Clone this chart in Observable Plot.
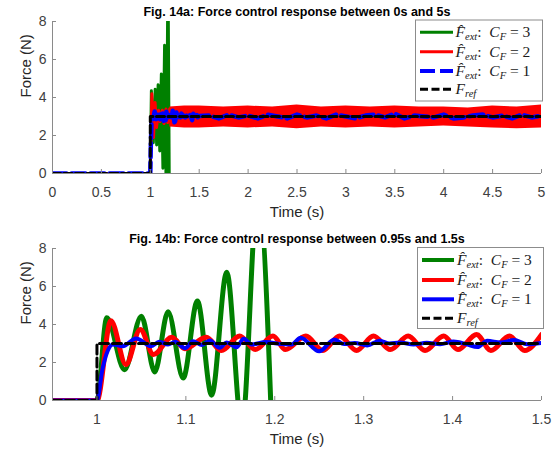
<!DOCTYPE html>
<html><head><meta charset="utf-8">
<script src="https://cdn.jsdelivr.net/npm/d3@7"></script>
<script src="https://cdn.jsdelivr.net/npm/@observablehq/plot@0.6"></script>
<style>
body{margin:0;background:#fff;width:559px;height:450px;overflow:hidden}
#wrap svg{display:block}
</style></head><body><div id="wrap"></div>
<script>
// ---------- data ----------
const titleA = "Fig. 14a: Force control response between 0s and 5s";
const titleB = "Fig. 14b: Force control response between 0.95s and 1.5s";
const xLabel = "Time (s)";
const yLabel = "Force (N)";
const xTicksA = [0, 0.5, 1, 1.5, 2, 2.5, 3, 3.5, 4, 4.5, 5];
const xTicksB = [1, 1.1, 1.2, 1.3, 1.4, 1.5];
const yTicks = [0, 2, 4, 6, 8];

// C_F = 3 (green)
const tGreen = [0.95, 1.0, 1.011, 1.031, 1.050, 1.065, 1.080, 1.097, 1.113, 1.129, 1.146, 1.163, 1.181, 1.200];
const fGreen = [0, 0, 4.35, 1.62, 4.44, 1.50, 4.67, 1.18, 5.24, 0.28, 6.75, -1.4, 11.0, -6.0];

// C_F = 2 (red)
const tRed = [0.95, 1.0, 1.0157, 1.0326, 1.0487, 1.0636, 1.0842, 1.099, 1.123, 1.140, 1.1605, 1.178, 1.198, 1.212, 1.235, 1.254, 1.273, 1.292, 1.311, 1.330, 1.350, 1.369, 1.390, 1.406, 1.427, 1.443, 1.464, 1.481, 1.5];
const fRed = [0, 0, 4.2, 1.89, 3.74, 2.42, 3.33, 2.73, 3.33, 2.63, 3.39, 2.68, 3.39, 2.68, 3.39, 2.63, 3.39, 2.63, 3.39, 2.68, 3.39, 2.63, 3.39, 2.68, 3.47, 2.63, 3.39, 2.63, 3.47];
// red envelope (top panel, where the oscillation merges into a band)
const tRedBand = [1.2, 1.35, 1.5, 1.75, 2, 2.25, 2.5, 2.75, 3, 3.25, 3.5, 3.75, 4, 4.25, 4.5, 4.75, 5];
const hiRedBand = [3.5, 3.55, 3.55, 3.5, 3.55, 3.5, 3.6, 3.5, 3.55, 3.5, 3.55, 3.5, 3.5, 3.45, 3.55, 3.5, 3.6];
const loRedBand = [2.45, 2.4, 2.4, 2.45, 2.4, 2.45, 2.35, 2.45, 2.4, 2.45, 2.4, 2.45, 2.5, 2.45, 2.4, 2.35, 2.4];

// C_F = 1 (blue)
const tBlue = [0.95, 1.0, 1.006, 1.012, 1.018, 1.029, 1.044, 1.061, 1.070, 1.080, 1.088, 1.099, 1.108, 1.118, 1.127, 1.138, 1.146, 1.157, 1.165, 1.174, 1.190, 1.205, 1.219, 1.229, 1.250, 1.267, 1.278, 1.290, 1.304, 1.318, 1.329, 1.341, 1.356, 1.371, 1.386, 1.401, 1.416, 1.428, 1.439, 1.454, 1.469, 1.484, 1.5];
const fBlue = [0, 0, 1.6, 2.6, 2.95, 2.86, 3.26, 2.86, 3.09, 2.95, 3.09, 2.75, 3.12, 2.92, 3.16, 2.77, 3.05, 2.8, 3.25, 2.95, 3.08, 2.98, 2.95, 3.3, 2.59, 3.21, 2.97, 3.03, 2.9, 3.15, 3.0, 3.05, 2.95, 3.04, 2.96, 3.1, 2.96, 2.81, 3.14, 3.05, 3.18, 2.96, 3.03];
// blue after 1.5 s (top panel)
const tBlueTail = [1.6, 1.7, 1.8, 1.9, 2.0, 2.1, 2.2, 2.3, 2.4, 2.5, 2.6, 2.7, 2.8, 2.9, 3.0, 3.1, 3.2, 3.3, 3.4, 3.5, 3.6, 3.7, 3.8, 3.9, 4.0, 4.1, 4.2, 4.3, 4.4, 4.5, 4.6, 4.7, 4.8, 4.9, 5.0];
const fBlueTail = [3.05, 2.9, 3.1, 2.95, 3.05, 2.9, 3.1, 3.0, 2.9, 3.1, 2.95, 3.05, 2.9, 3.1, 3.0, 2.9, 3.05, 3.1, 2.95, 3.15, 2.9, 3.05, 3.0, 2.95, 3.1, 2.9, 2.95, 3.05, 3.1, 2.95, 3.05, 2.9, 3.1, 2.95, 3.05];

// reference force
const tRefA = [0, 1, 1, 5];
const tRefB = [0.95, 1, 1, 1.5];
const fRef = [0, 0, 3, 3];

// ---------- helpers ----------
const pts = (t, f) => t.map((x, i) => ({x, y: f[i]}));
const GREEN = "#008000", RED = "#ff0000", BLUE = "#0000ff";
const AX = "#8a8a8a", TXT = "#404040";
const W = 559, H = 225, ML = 52, MR = 18;

function panel({xDomain, xTicks, title, mt, mb, marks}) {
  const fw = W - ML - MR, fh = H - mt - mb;
  return Plot.plot({
    width: W, height: H,
    marginLeft: ML, marginRight: MR, marginTop: mt, marginBottom: mb,
    style: {fontFamily: "'Liberation Sans', Arial, sans-serif", background: "white"},
    x: {domain: xDomain},
    y: {domain: [0, 8]},
    marks: [
      ...marks,
      Plot.ruleY([0], {stroke: AX, strokeWidth: 1}),
      Plot.ruleX([xDomain[0]], {stroke: AX, strokeWidth: 1}),
      Plot.tickX(xTicks, {x: d => d, insetTop: fh - 4, stroke: AX}),
      Plot.tickY(yTicks, {y: d => d, insetRight: fw - 4, stroke: AX}),
      Plot.axisX({ticks: xTicks, tickSize: 0, tickPadding: 14, fontSize: 14, fill: TXT, label: null, tickFormat: d => String(d)}),
      Plot.axisY({ticks: yTicks, tickSize: 0, tickPadding: 6, fontSize: 14, fill: TXT, label: null, tickFormat: d => String(d)}),
      Plot.text([xLabel], {frameAnchor: "bottom", dy: 33, lineAnchor: "top", fontSize: 15, fill: "#262626"}),
      Plot.text([yLabel], {frameAnchor: "left", dx: -32, lineAnchor: "top", rotate: -90, fontSize: 15, fill: "#262626"}),
      Plot.text([title], {frameAnchor: "top", dy: -14.5, lineAnchor: "top", fontSize: 12.5, fontWeight: "bold", fill: "black"})
    ]
  });
}

const svgA = panel({
  xDomain: [0, 5], xTicks: xTicksA, title: titleA, mt: 21, mb: 52,
  marks: [
    Plot.line(pts([0, ...tGreen], [0, ...fGreen]), {x: "x", y: "y", stroke: GREEN, strokeWidth: 3, clip: true}),
    Plot.areaY(tRedBand.map((x, i) => ({x, lo: loRedBand[i], hi: hiRedBand[i]})), {x: "x", y1: "lo", y2: "hi", fill: RED, clip: true}),
    Plot.line(pts([0, ...tRed], [0, ...fRed]), {x: "x", y: "y", stroke: RED, strokeWidth: 3, clip: true}),
    Plot.line(pts([0, ...tBlue, ...tBlueTail], [0, ...fBlue, ...fBlueTail]), {x: "x", y: "y", stroke: BLUE, strokeWidth: 4.5, strokeDasharray: "14,5", clip: true}),
    Plot.line(pts(tRefA, fRef), {x: "x", y: "y", stroke: "black", strokeWidth: 3, strokeDasharray: "8,3.5", clip: true})
  ]
});

const svgB = panel({
  xDomain: [0.95, 1.5], xTicks: xTicksB, title: titleB, mt: 23, mb: 50,
  marks: [
    Plot.line(pts(tGreen, fGreen), {x: "x", y: "y", stroke: GREEN, strokeWidth: 5, curve: "monotone-x", clip: true}),
    Plot.line(pts(tRed, fRed), {x: "x", y: "y", stroke: RED, strokeWidth: 5, curve: "monotone-x", clip: true}),
    Plot.line(pts(tBlue, fBlue), {x: "x", y: "y", stroke: BLUE, strokeWidth: 4, curve: "monotone-x", clip: true}),
    Plot.line(pts(tRefB, fRef), {x: "x", y: "y", stroke: "black", strokeWidth: 3, strokeDasharray: "9,4", clip: true})
  ]
});

const wrap = document.getElementById("wrap");
wrap.appendChild(svgA);
wrap.appendChild(svgB);

// ---------- legends ----------
const legendEntries = [
  {kind: "est", cf: "3", color: GREEN},
  {kind: "est", cf: "2", color: RED},
  {kind: "est", cf: "1", color: BLUE},
  {kind: "ref", color: "black"}
];

function addLegend(svg, box, rows, lineX, textX, styles) {
  const g = d3.select(svg).append("g").attr("text-anchor", "start");
  g.append("rect").attr("x", box[0]).attr("y", box[1]).attr("width", box[2]).attr("height", box[3])
    .attr("fill", "white").attr("stroke", "#8c8c8c").attr("stroke-width", 1);
  legendEntries.forEach((e, i) => {
    const s = styles[i];
    g.append("line").attr("x1", lineX[0]).attr("x2", lineX[1]).attr("y1", rows[i]).attr("y2", rows[i])
      .attr("stroke", e.color).attr("stroke-width", s.w).attr("stroke-dasharray", s.dash || null);
    const t = g.append("text").attr("x", textX).attr("y", rows[i] + 5).attr("text-anchor", "start")
      .attr("font-family", "'Liberation Serif', 'DejaVu Serif', serif").attr("font-size", 15.5).attr("fill", "#1a1a1a");
    if (e.kind === "est") {
      t.append("tspan").attr("font-style", "italic").text("F\u0302");
      t.append("tspan").attr("font-style", "italic").attr("font-size", 10.5).attr("dy", 3).text("ext");
      t.append("tspan").attr("dy", -3).text(":\u00a0 ");
      t.append("tspan").attr("font-style", "italic").text("C");
      t.append("tspan").attr("font-style", "italic").attr("font-size", 10.5).attr("dy", 3).text("F");
      t.append("tspan").attr("dy", -3).text("\u00a0=\u00a0" + e.cf);
    } else {
      t.append("tspan").attr("font-style", "italic").text("F");
      t.append("tspan").attr("font-style", "italic").attr("font-size", 10.5).attr("dy", 3).text("ref");
    }
  });
}

addLegend(svgA, [415.5, 20, 127, 81], [32.3, 51.7, 71, 89.3], [420, 453], 455.5,
  [{w: 3}, {w: 3}, {w: 4, dash: "15,5"}, {w: 3, dash: "8,3.5"}]);
addLegend(svgB, [417.5, 22.5, 126, 81], [35, 55, 74.3, 93.3], [422, 454], 457,
  [{w: 4}, {w: 4}, {w: 4}, {w: 3, dash: "8,3.5"}]);
</script>
</body></html>
